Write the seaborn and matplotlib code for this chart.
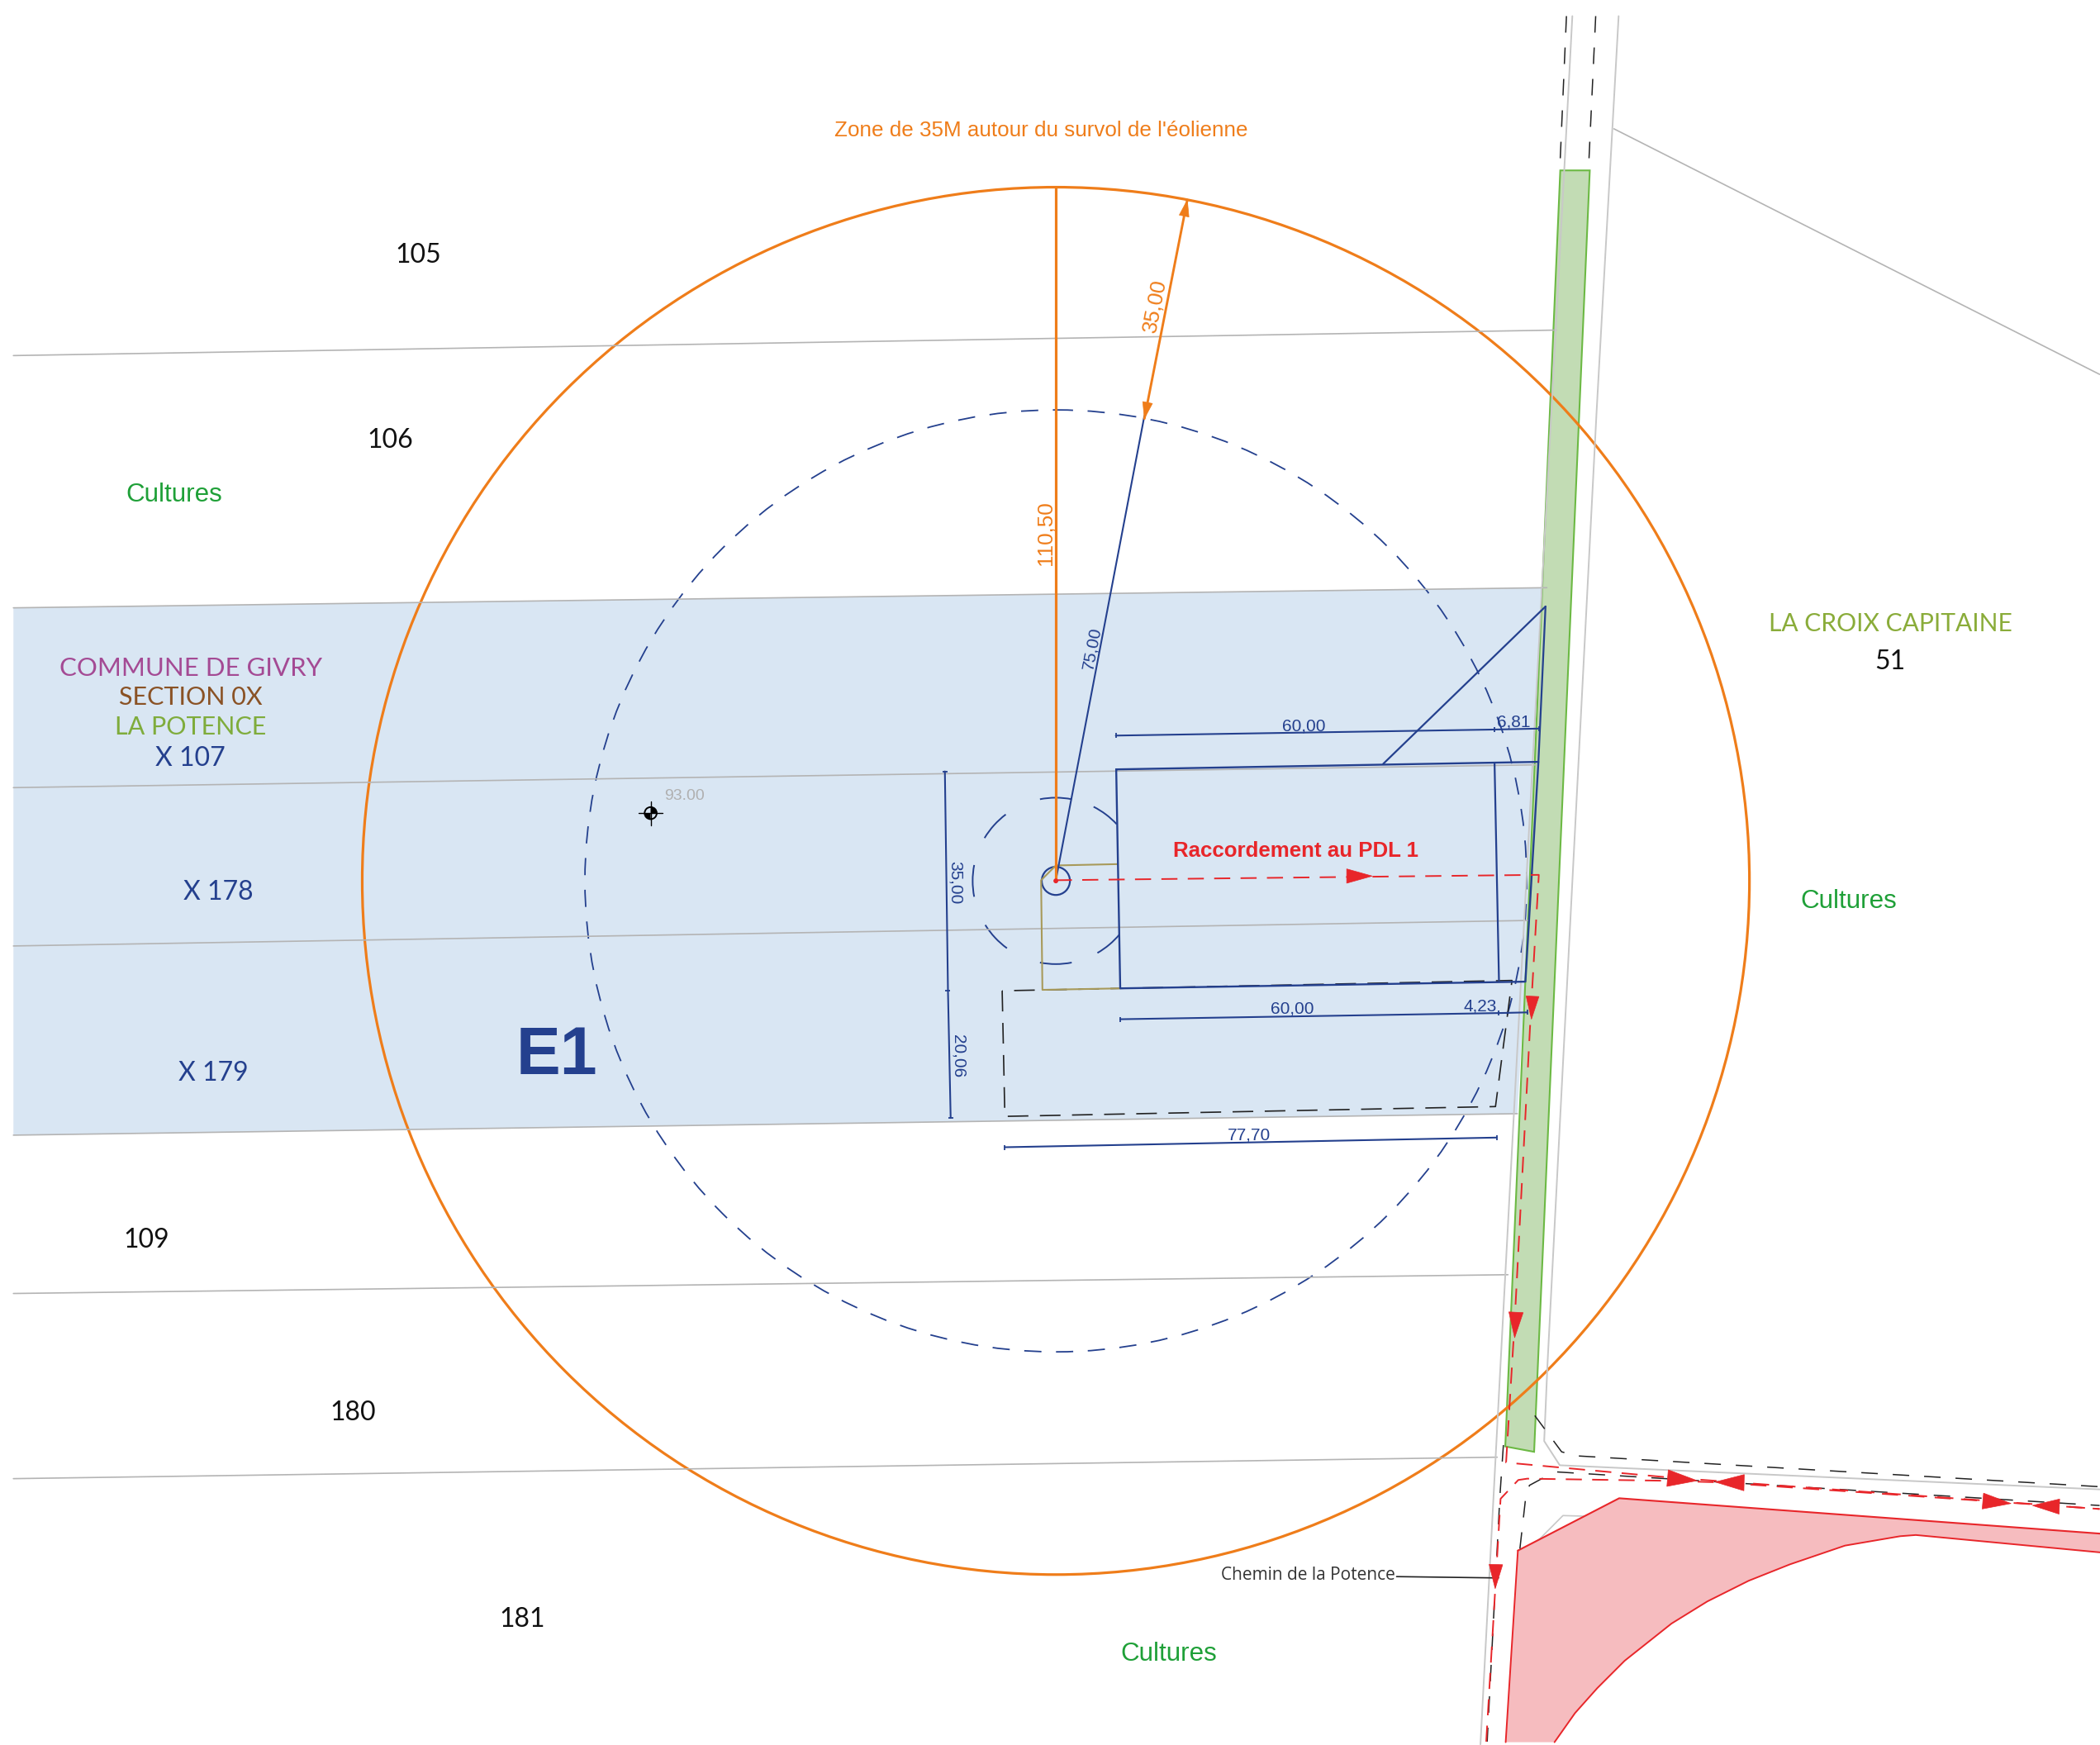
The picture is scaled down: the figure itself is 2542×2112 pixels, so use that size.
import matplotlib
matplotlib.use("Agg")
import matplotlib.pyplot as plt
from matplotlib.patches import Circle, Arc, Polygon, Wedge
import seaborn as sns

sns.set_theme(style="white")
plt.rcParams["lines.scale_dashes"] = False
SANS = "Liberation Sans"
HUMAN = "Lato"

# ---- site plan geometry ----
parcel_x = [10, 1153, 1131, 10]
parcel_y = [453, 438, 830, 846]
strip_x = [1163, 1185, 1143.5, 1122]
strip_y = [127, 127, 1082, 1078]
access_x = [1131.4, 1206.9, 1566, 1566, 1428, 1416.3, 1375.2, 1334.1, 1303.4, 1272.6, 1245.9, 1211, 1190.5, 1174, 1158.7, 1122.3]
access_y = [1155.6, 1116.6, 1143, 1157, 1144, 1144.9, 1151.9, 1165.9, 1178.1, 1193.5, 1210, 1237.7, 1258.2, 1276.7, 1298.4, 1298.4]

parcel_lines_x = [[10, 1160], [10, 1153], [10, 1145], [10, 1139], [10, 1131], [10, 1124], [10, 1116], [1203, 1565]]
parcel_lines_y = [[265, 246], [453, 438], [587, 570], [705, 686], [846, 830], [964, 950], [1102, 1086], [96, 279]]
road_left_x = [1172, 1166, 1118.5, 1103.5]
road_left_y = [12, 126, 1016, 1300]
road_right_x = [1206.5, 1190, 1153.5, 1151, 1162.6, 1565]
road_right_y = [12, 308, 1016, 1074, 1092, 1110]
island_x = [1146.6, 1165, 1182]
island_y = [1148, 1129.5, 1130]

edge_dash_x = [[1167.6, 1162.6], [1189.4, 1184], [1144, 1164, 1175, 1565], [1120.6, 1118, 1108.5],
               [1150, 1140, 1137, 1132.7], [1160.7, 1565]]
edge_dash_y = [[12, 127], [12, 127], [1055, 1082, 1085, 1108], [1077, 1115, 1298],
               [1101.6, 1107, 1118, 1156], [1097, 1122]]

platform_x = [747, 749, 1114.7, 1127, 747]
platform_y = [738.4, 832, 824.7, 730.7, 738.4]
tan_x = [833, 787, 776, 777, 835]
tan_y = [644, 645, 656, 737.7, 736.6]
zone_x = [832, 1146.7, 1137, 835, 832]
zone_y = [573.4, 567.8, 731.6, 736.6, 573.4]
zone_inner_x = [1114, 1117.3]
zone_inner_y = [568.5, 730.7]
zone_right_x = [1146.7, 1152]
zone_right_y = [567.8, 452]
zone_diag_x = [1031, 1152]
zone_diag_y = [569.3, 452]
radius_x = [787, 853]
radius_y = [656, 310]

dim_x = [[831.7, 1114, 1147], [704.3, 706.6, 708.6], [835, 1117, 1138.6], [749, 1115.5]]
dim_y = [[548.2, 543.7, 543], [574.9, 738.6, 833], [759.6, 755, 754.5], [855, 847.8]]
dim_marker = ["|", "_", "|", "|"]

cable_x = [[787, 1147, 1141, 1129, 1122.6, 1243, 1565], [1107.8, 1118.5, 1131.7, 1138.4, 1243, 1280, 1565]]
cable_y = [[656, 652, 755, 985, 1090, 1101, 1124.6], [1298, 1117, 1103, 1102, 1103.6, 1104.7, 1124.6]]
# arrow heads: base centre -> tip
head_base_x = [1003.8, 1142.3, 1130, 1115, 1243, 1300, 1478, 1535]
head_base_y = [652.9, 742.5, 978, 1166, 1101.6, 1105, 1118.7, 1122.8]
head_tip_x = [1022.8, 1141.5, 1129, 1114.5, 1265, 1278.5, 1499, 1515]
head_tip_y = [652.9, 759.6, 997, 1184, 1103.5, 1104.5, 1120.5, 1122]

leader_x = [1041, 1117]
leader_y = [1175, 1176]
orange_v_x = [787, 787]
orange_v_y = [140, 656]
orange_a_x = [885, 853]
orange_a_y = [149, 312]

turbine_x, turbine_y = 787, 656.5
r_overfly, r_blade, r_foundation, r_mast = 517, 351, 62, 10.5
arc_start = [79, 43, 127, 169, 212, 259, 300]
arc_end = [101, 63, 149, 191, 234, 281, 320]

survey_x, survey_y = 485, 606

# ---- labels ----
labels_green = ["Cultures", "Cultures", "Cultures"]
labels_green_x = [130, 1378, 871]
labels_green_y = [369, 672, 1233]
parcels_black = ["105", "106", "109", "180", "181", "51"]
parcels_black_x = [312, 291, 109, 263, 389, 1409]
parcels_black_y = [190, 328, 924, 1053, 1207, 493]
parcels_blue = ["X 107", "X 178", "X 179"]
parcels_blue_x = [142, 163, 159]
parcels_blue_y = [565, 665, 800]
dim_labels = ["60,00", "6,81", "60,00", "4,23", "77,70"]
dim_labels_x = [972, 1128, 963, 1103, 931]
dim_labels_y = [541, 538, 752, 750, 846]
vdim_labels = ["35,00", "20,06"]
vdim_labels_x = [712, 714]
vdim_labels_y = [658, 787]

NAVY = "#24408e"
ORANGE = "#ef7d1a"
RED = "#e8262a"
GREY = "#b4b4b4"
LGREY = "#c8c8c8"
BLACK = "#222222"

fig = plt.figure(figsize=(25.42, 21.12), dpi=100, facecolor="white")
ax = fig.add_axes([0, 0, 1, 1])


def line(xs, ys, color, lw, ls="-", **kw):
    sns.lineplot(x=xs, y=ys, sort=False, estimator=None, errorbar=None, ax=ax,
                 color=color, linewidth=lw, linestyle=ls, legend=False, **kw)


def label(x, y, s, color, size, family=SANS, **kw):
    ax.text(x, y, s, color=color, fontsize=size, family=family, ha="center", va="center", **kw)


ax.fill(parcel_x, parcel_y, color="#d9e6f3", lw=0)
for xs, ys in zip(parcel_lines_x, parcel_lines_y):
    line(xs, ys, GREY, 1.2)
line(road_left_x, road_left_y, LGREY, 1.4)
line(road_right_x, road_right_y, LGREY, 1.4)
line(island_x, island_y, LGREY, 1.2)

ax.fill(strip_x, strip_y, facecolor="#c2dcb4", edgecolor="#6cb944", lw=1.5)
ax.fill(access_x, access_y, facecolor="#f6bcbf", lw=0)
line(access_x[:4], access_y[:4], RED, 1.5)
line(access_x[3:15], access_y[3:15], RED, 1.4)
line([access_x[15], access_x[0]], [access_y[15], access_y[0]], RED, 1.4)

for xs, ys in zip(edge_dash_x, edge_dash_y):
    line(xs, ys, BLACK, 1.1, ls=(0, (14.4, 13)))
line(platform_x, platform_y, BLACK, 1.2, ls=(0, (18, 10)))

line(tan_x, tan_y, "#a89a5a", 1.5)
line(zone_x, zone_y, NAVY, 1.7)
line(zone_inner_x, zone_inner_y, NAVY, 1.6)
line(zone_right_x, zone_right_y, NAVY, 1.6)
line(zone_diag_x, zone_diag_y, NAVY, 1.6)
line(radius_x, radius_y, NAVY, 1.5)

for xs, ys, m in zip(dim_x, dim_y, dim_marker):
    line(xs, ys, NAVY, 1.5, marker=m, markersize=4.5, markeredgewidth=1.3, markeredgecolor=NAVY)

ax.add_patch(Circle((turbine_x, turbine_y), r_blade, fill=False, ec=NAVY, lw=1.3, ls=(0, (15, 12.7))))
ax.add_patch(Circle((turbine_x, turbine_y), r_mast, fill=False, ec=NAVY, lw=1.6))
for a, b in zip(arc_start, arc_end):
    ax.add_patch(Arc((turbine_x, turbine_y), 2 * r_foundation, 2 * r_foundation,
                     theta1=-b, theta2=-a, ec=NAVY, lw=1.4))

ax.add_patch(Circle((turbine_x, turbine_y), r_overfly, fill=False, ec=ORANGE, lw=2.3))
line(orange_v_x, orange_v_y, ORANGE, 2.3)
line(orange_a_x, orange_a_y, ORANGE, 2.1)
for tip, base in (((885, 149), (882.6, 161)), ((853, 312), (855.4, 300))):
    dx, dy = base[0] - tip[0], base[1] - tip[1]
    ax.add_patch(Polygon([tip, (base[0] - dy * .3, base[1] + dx * .3), (base[0] + dy * .3, base[1] - dx * .3)],
                         fc=ORANGE, ec=ORANGE, lw=0.5, zorder=4))

for xs, ys in zip(cable_x, cable_y):
    line(xs, ys, RED, 1.4, ls=(0, (14, 9)))
ax.add_patch(Circle((turbine_x, turbine_y), 1.8, fc=RED, ec=RED, lw=0, zorder=6))
for bx, by, tx, ty in zip(head_base_x, head_base_y, head_tip_x, head_tip_y):
    dx, dy = tx - bx, ty - by
    ax.add_patch(Polygon([(tx, ty), (bx - dy * .28, by + dx * .28), (bx + dy * .28, by - dx * .28)],
                         fc=RED, ec=RED, lw=0.5, zorder=5))
line(leader_x, leader_y, BLACK, 1.2)

# survey point
ax.add_patch(Circle((survey_x, survey_y), 4.5, fill=False, ec="black", lw=1.4))
ax.add_patch(Wedge((survey_x, survey_y), 4.5, 270, 360, fc="black", lw=0))
ax.add_patch(Wedge((survey_x, survey_y), 4.5, 90, 180, fc="black", lw=0))
line([survey_x - 9, survey_x + 9], [survey_y, survey_y], "black", 1.0)
line([survey_x, survey_x], [survey_y - 9, survey_y + 9], "black", 1.0)
label(510, 593, "93.00", "#b0b0b0", 14)

label(776, 97, "Zone de 35M autour du survol de l'éolienne", ORANGE, 18.7)
label(779, 397, "110,50", ORANGE, 18.7, rotation=90)
label(861, 228, "35,00", ORANGE, 18.7, rotation=79)
label(814, 483, "75,00", NAVY, 15, rotation=79)
label(966, 634, "Raccordement au PDL 1", RED, 18.6, fontweight="bold")
label(415, 787.5, "E1", NAVY, 58, fontweight="bold")
label(975, 1174, "Chemin de la Potence", "#333333", 15, family="Open Sans")

for s, x, y in zip(labels_green, labels_green_x, labels_green_y):
    label(x, y, s, "#1fa038", 22.6)
for s, x, y in zip(parcels_black, parcels_black_x, parcels_black_y):
    label(x, y, s, "#111111", 23, family=HUMAN)
for s, x, y in zip(parcels_blue, parcels_blue_x, parcels_blue_y):
    label(x, y, s, NAVY, 23, family=HUMAN)
label(142, 498, "COMMUNE DE GIVRY", "#a44a94", 22.4, family=HUMAN)
label(142, 520, "SECTION 0X", "#8a5225", 22, family=HUMAN)
label(142, 542, "LA POTENCE", "#7fac3c", 22, family=HUMAN)
label(1409, 465, "LA CROIX CAPITAINE", "#8aac3a", 21.6, family=HUMAN)

for s, x, y in zip(dim_labels, dim_labels_x, dim_labels_y):
    label(x, y, s, NAVY, 15)
for s, x, y in zip(vdim_labels, vdim_labels_x, vdim_labels_y):
    label(x, y, s, NAVY, 15, rotation=-90)

ax.set_xlim(0, 1565.3)
ax.set_ylim(1300.5, 0)
ax.axis("off")
fig.savefig("out.png", dpi=100, facecolor="white")
